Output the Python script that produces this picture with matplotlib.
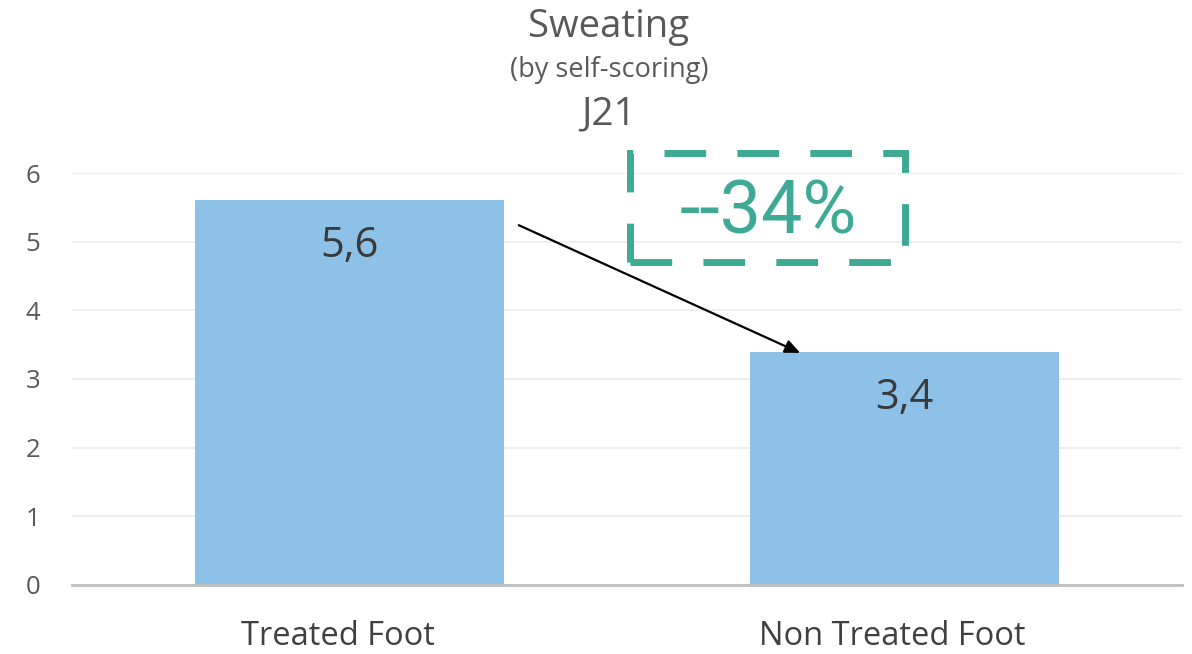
import matplotlib
matplotlib.use("Agg")
import matplotlib.pyplot as plt
import matplotlib.transforms as mtransforms
from matplotlib.patches import Rectangle

categories = ["Treated Foot", "Non Treated Foot"]
values = [5.6, 3.4]
value_labels = ["5,6", "3,4"]
yticks = [0, 1, 2, 3, 4, 5, 6]
change_label = "--34%"

plt.rcParams['font.family'] = ['Open Sans', 'DejaVu Sans']

fig = plt.figure(figsize=(11.92, 6.54), dpi=100)
ax = fig.add_axes([72/1192, 69/654, 1110/1192, 412/654])

x = list(range(len(categories)))
ax.bar(x, values, width=0.555, color="#8ec1e8", zorder=2)
ax.set_xlim(-0.5, 1.5)
ax.set_ylim(0, 6)
ax.set_yticks(yticks)
ax.set_yticklabels([str(t) for t in yticks])
ax.set_xticks(x)
ax.set_xticklabels(categories)
ax.tick_params(axis='y', length=0, pad=23, labelsize=18.5, labelcolor="#595959")
ax.tick_params(axis='x', length=0, pad=25, labelsize=23.5, labelcolor="#404040")
offset = mtransforms.ScaledTranslation(-12/100, 0, fig.dpi_scale_trans)
for lbl in ax.get_xticklabels():
    lbl.set_transform(lbl.get_transform() + offset)
ax.grid(axis='y', color="#efefef", linewidth=1.5, zorder=0)
for s in ["top", "right", "left"]:
    ax.spines[s].set_visible(False)
ax.spines["bottom"].set_color("#bfbfbf")
ax.spines["bottom"].set_linewidth(2)
ax.spines["bottom"].set_zorder(3)

for xi, v, lab in zip(x, values, value_labels):
    ax.text(xi, v - 0.67, lab, ha='center', va='center', fontsize=30, color="#3a3a3a", zorder=4)

# arrow
ax.annotate("", xy=(0.812, 3.38), xytext=(0.305, 5.24),
            arrowprops=dict(arrowstyle="-|>,head_length=0.9,head_width=0.4", color="black", lw=1.6,
                            shrinkA=0, shrinkB=0), zorder=5)

# dashed box
box = Rectangle((0.506, 4.7), 0.494, 1.59, fill=False, edgecolor="#3eaa96", lw=5,
                linestyle=(0, (6, 4.5)), clip_on=False, zorder=5)
ax.add_patch(box)
ax.text(0.755, 5.42, change_label, ha='center', va='center', fontsize=53, color="#3eaa96",
        family=['Roboto', 'DejaVu Sans'], zorder=6)

fig.text(609/1192, 1 - 27/654, "Sweating", ha='center', va='center', fontsize=27.5, color="#595959")
fig.text(609/1192, 1 - 70/654, "(by self-scoring)", ha='center', va='center', fontsize=19.5, color="#595959")
fig.text(609/1192, 1 - 114/654, "J21", ha='center', va='center', fontsize=28, color="#595959")

fig.savefig("out.png", dpi=100)
